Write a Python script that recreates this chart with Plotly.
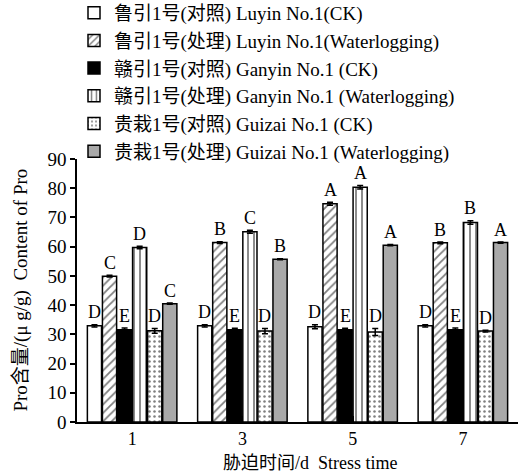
import plotly.graph_objects as go

days = ["1", "3", "5", "7"]
series_names = [
    "鲁引1号(对照) Luyin No.1(CK)",
    "鲁引1号(处理) Luyin No.1(Waterlogging)",
    "赣引1号(对照) Ganyin No.1 (CK)",
    "赣引1号(处理) Ganyin No.1 (Waterlogging)",
    "贵栽1号(对照) Guizai No.1 (CK)",
    "贵栽1号(处理) Guizai No.1 (Waterlogging)",
]
luyin_ck = [32.9, 32.9, 32.6, 32.9]
luyin_wl = [49.9, 61.4, 74.7, 61.3]
ganyin_ck = [31.6, 31.6, 31.6, 31.6]
ganyin_wl = [59.7, 65.1, 80.3, 68.3]
guizai_ck = [31.2, 31.1, 30.8, 31.1]
guizai_wl = [40.5, 55.7, 60.5, 61.4]

luyin_ck_err = [0.4, 0.4, 0.7, 0.4]
luyin_wl_err = [0.3, 0.3, 0.5, 0.3]
ganyin_ck_err = [0.6, 0.5, 0.5, 0.6]
ganyin_wl_err = [0.4, 0.5, 0.6, 0.6]
guizai_ck_err = [0.8, 0.9, 1.2, 0.3]
guizai_wl_err = [0.2, 0.2, 0.2, 0.2]

luyin_ck_sig = ["D", "D", "D", "D"]
luyin_wl_sig = ["C", "B", "A", "B"]
ganyin_ck_sig = ["E", "E", "E", "E"]
ganyin_wl_sig = ["D", "C", "A", "B"]
guizai_ck_sig = ["D", "D", "D", "D"]
guizai_wl_sig = ["C", "B", "A", "A"]

x_title = "胁迫时间/d  Stress time"
y_title = "Pro含量/(μ g/g)  Content of Pro"

values = [luyin_ck, luyin_wl, ganyin_ck, ganyin_wl, guizai_ck, guizai_wl]
errors = [luyin_ck_err, luyin_wl_err, ganyin_ck_err, ganyin_wl_err, guizai_ck_err, guizai_wl_err]
sigs = [luyin_ck_sig, luyin_wl_sig, ganyin_ck_sig, ganyin_wl_sig, guizai_ck_sig, guizai_wl_sig]

fills = ["white", "white", "black", "white", "white", "#a9a9a9"]
shapes = ["", "/", "", "|", ".", ""]

FONT = "Liberation Serif, Noto Sans CJK SC, serif"
BARGAP = 0.18

fig = go.Figure()
for k in range(6):
    fig.add_trace(go.Bar(
        x=list(range(len(days))), y=values[k], name=series_names[k],
        marker=dict(color=fills[k], line=dict(color="black", width=1.5),
                    pattern=dict(shape=shapes[k], fgcolor="black", bgcolor=fills[k],
                                 size=6 if shapes[k] != "." else 5, solidity=0.3 if shapes[k] != "." else 0.2)),
        error_y=dict(type="data", array=errors[k], color="black", thickness=1.5, width=3),
    ))

w = (1 - BARGAP) / 6
for k in range(6):
    for i in range(len(days)):
        fig.add_annotation(
            x=i + (k - 2.5) * w, y=values[k][i] + errors[k][i] + 0.1,
            xref="x", yref="y", text=sigs[k][i], showarrow=False,
            yanchor="bottom", font=dict(family=FONT, size=18, color="black"))

fig.add_annotation(x=0.53, y=-0.157, xref="paper", yref="paper", text=x_title,
                   showarrow=False, xanchor="center", yanchor="middle",
                   font=dict(family=FONT, size=18, color="black"))
fig.add_annotation(x=-0.129, y=0.5, xref="paper", yref="paper", text=y_title,
                   showarrow=False, xanchor="center", yanchor="middle", textangle=-90,
                   font=dict(family=FONT, size=19, color="black"))

fig.update_layout(
    width=521, height=476,
    margin=dict(l=77, r=3, t=159, b=54, autoexpand=False),
    plot_bgcolor="white", paper_bgcolor="white",
    barmode="group", bargap=BARGAP, bargroupgap=0.06,
    font=dict(family=FONT, color="black", size=15),
    showlegend=True,
    legend=dict(x=-0.0068, y=1.628, xanchor="left", yanchor="top",
                font=dict(family=FONT, size=19), bgcolor="rgba(0,0,0,0)",
                itemwidth=30, tracegroupgap=0),
    xaxis=dict(
        tickmode="array", tickvals=list(range(len(days))), ticktext=days,
        range=[-0.5, 3.5], showline=True, linecolor="black", linewidth=1.5,
        ticks="inside", tickson="boundaries", ticklen=6, tickwidth=1.5, tickcolor="black",
        tickfont=dict(family=FONT, size=18),
        showgrid=False, zeroline=False,
    ),
    yaxis=dict(
        range=[0, 90], dtick=10, showline=True, linecolor="black", linewidth=1.5,
        ticks="outside", ticklen=5, tickwidth=1.5, tickcolor="black",
        tickfont=dict(family=FONT, size=19),
        showgrid=False, zeroline=False,
    ),
)
fig.write_html("out.html", config={"displayModeBar": False},
               post_script="document.body.style.margin='0px';")
